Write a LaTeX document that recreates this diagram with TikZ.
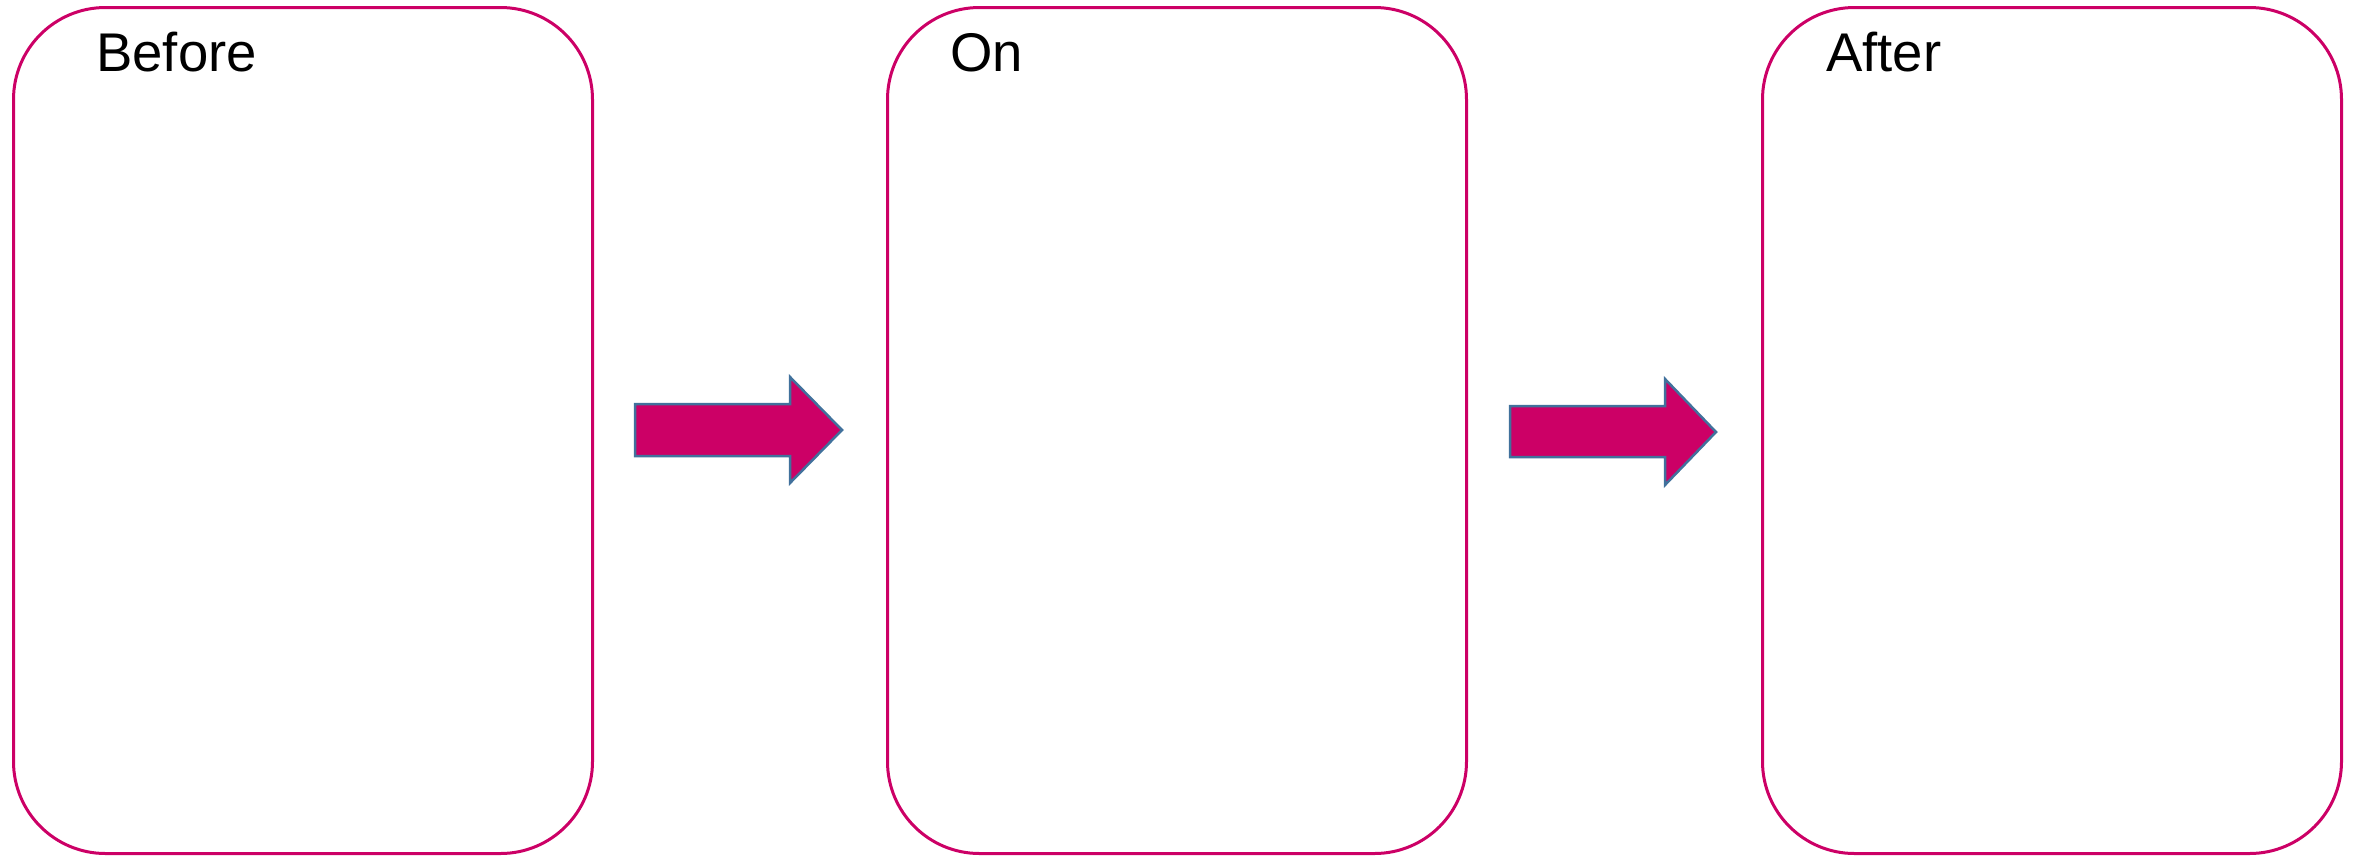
\documentclass[tikz,border=0pt]{standalone}
\usepackage{fontspec}
\setmainfont{Liberation Sans}
\definecolor{pinkline}{HTML}{CC0066}
\definecolor{arrowedge}{HTML}{41719C}
\begin{document}
\begin{tikzpicture}[x=1pt,y=-1pt,
  panel/.style={draw=pinkline, line width=3pt, rounded corners=92pt, minimum width=579pt, minimum height=846pt, inner sep=0pt, anchor=north west},
  title/.style={anchor=base west, inner sep=0pt, font=\fontsize{54.5}{60}\selectfont},
  blockarrow/.style={fill=pinkline, draw=arrowedge, line width=2.5pt, line join=miter}]
\useasboundingbox (0,0) rectangle (2354,855);
\node[panel] (before) at (12,6) {};
\node[panel] (on) at (886,6) {};
\node[panel] (after) at (1761,6) {};
\node[title] (tbefore) at (96,71) {Before};
\node[title] (ton) at (950,71) {On};
\node[title] (tafter) at (1826,71) {After};
\draw[blockarrow] (635,404) -- (790,404) -- (790,377) -- (842,430) -- (790,483) -- (790,456) -- (635,456) -- cycle;
\draw[blockarrow] (1510,406) -- (1665,406) -- (1665,379) -- (1716,432) -- (1665,485) -- (1665,457) -- (1510,457) -- cycle;
\end{tikzpicture}
\end{document}
